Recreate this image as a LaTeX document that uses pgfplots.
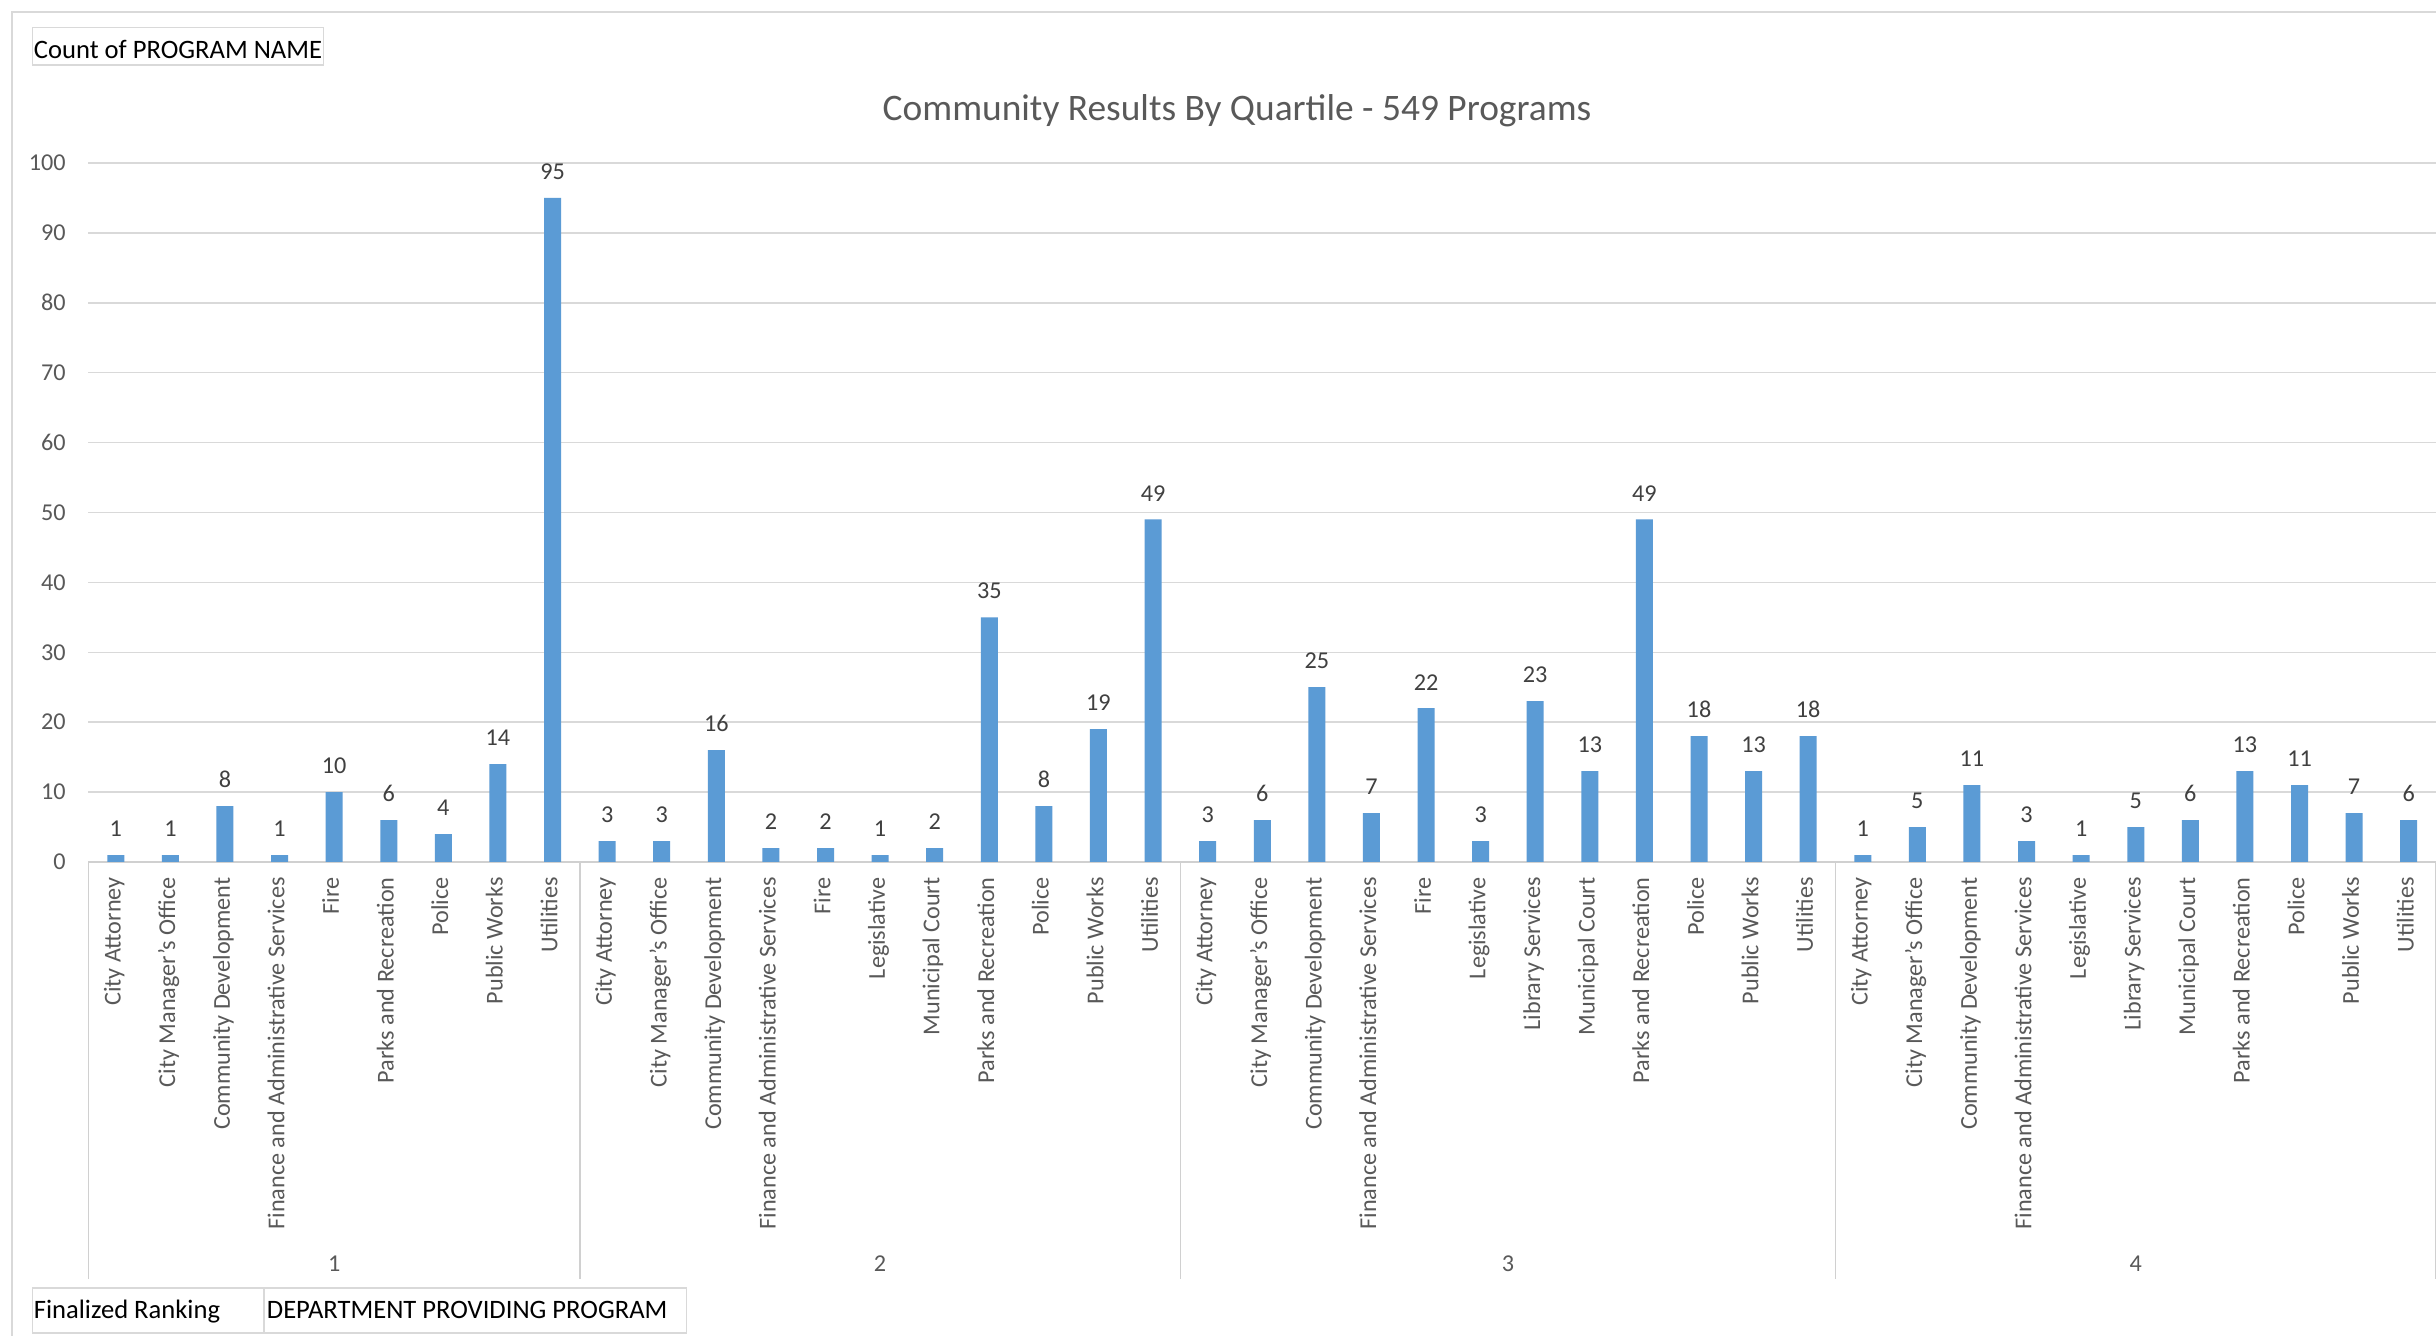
\documentclass[border=0pt]{standalone}
\usepackage{pgfplots}
\pgfplotsset{compat=1.18}
\usepackage{fontspec}
\setmainfont{Carlito}
\definecolor{barblue}{HTML}{5B9BD5}
\definecolor{gridgray}{HTML}{D9D9D9}
\definecolor{axisgray}{HTML}{D0D0D0}
\definecolor{txtgray}{HTML}{595959}
\definecolor{lblgray}{HTML}{404040}
\newcommand{\axfont}{\fontsize{12.1}{14}\selectfont}
\newcommand{\btnfont}{\fontsize{13.3}{16}\selectfont}
\begin{document}
\begin{tikzpicture}
\useasboundingbox (-44.25pt,-239pt) rectangle (1173.75pt,429pt);
\fill[white] (-44.25pt,-239pt) rectangle (1173.75pt,429pt);
\draw[gridgray, line width=1pt] (-38.25pt,-270pt) rectangle (1200pt,423.15pt);
\node[anchor=base, inner sep=0pt, font=\fontsize{18.7}{21}\selectfont, text=txtgray] at (574.25pt,368.5pt) {Community Results By Quartile - 549 Programs};
\begin{axis}[
  at={(0pt,-2pt)}, anchor=south west,
  width=1173.75pt, height=349.5pt, scale only axis,
  xmin=-0.5, xmax=42.5, ymin=0, ymax=100,
  ytick={0,10,...,100},
  ymajorgrids, major grid style={gridgray, line width=0.75pt},
  axis x line*=bottom, axis y line*=left,
  y axis line style={draw=none},
  x axis line style={axisgray, line width=0.75pt, -},
  xtick=data,
  xticklabels={City Attorney,City Manager's Office,Community Development,Finance and Administrative Services,Fire,Parks and Recreation,Police,Public Works,Utilities,
  City Attorney,City Manager's Office,Community Development,Finance and Administrative Services,Fire,Legislative,Municipal Court,Parks and Recreation,Police,Public Works,Utilities,
  City Attorney,City Manager's Office,Community Development,Finance and Administrative Services,Fire,Legislative,Library Services,Municipal Court,Parks and Recreation,Police,Public Works,Utilities,
  City Attorney,City Manager's Office,Community Development,Finance and Administrative Services,Legislative,Library Services,Municipal Court,Parks and Recreation,Police,Public Works,Utilities},
  major tick length=0pt,
  tick style={draw=none},
  xticklabel style={rotate=90, anchor=mid east, inner sep=0pt, font=\axfont, text=txtgray},
  xticklabel shift=7.5pt,
  yticklabel style={anchor=east, inner sep=0pt, font=\axfont, text=txtgray},
  yticklabel shift=11.2pt,
  /pgf/number format/assume math mode=true,
  ybar, bar width=8.5pt,
  nodes near coords,
  every node near coord/.append style={font=\axfont, text=lblgray, anchor=south, inner sep=0pt, yshift=8.9pt},
  clip=false,
]
\addplot[fill=barblue, draw=none] coordinates {
(0,1) (1,1) (2,8) (3,1) (4,10) (5,6) (6,4) (7,14) (8,95)
(9,3) (10,3) (11,16) (12,2) (13,2) (14,1) (15,2) (16,35) (17,8) (18,19) (19,49)
(20,3) (21,6) (22,25) (23,7) (24,22) (25,3) (26,23) (27,13) (28,49) (29,18) (30,13) (31,18)
(32,1) (33,5) (34,11) (35,3) (36,1) (37,5) (38,6) (39,13) (40,11) (41,7) (42,6)
};
\draw[axisgray, line width=0.75pt] (axis cs:-0.5,0) -- ([yshift=-208.5pt]axis cs:-0.5,0);
\draw[axisgray, line width=0.75pt] (axis cs:8.5,0) -- ([yshift=-208.5pt]axis cs:8.5,0);
\draw[axisgray, line width=0.75pt] (axis cs:19.5,0) -- ([yshift=-208.5pt]axis cs:19.5,0);
\draw[axisgray, line width=0.75pt] (axis cs:31.5,0) -- ([yshift=-208.5pt]axis cs:31.5,0);
\draw[axisgray, line width=0.75pt] (axis cs:42.5,0) -- ([yshift=-208.5pt]axis cs:42.5,0);
\node[anchor=base, inner sep=0pt, font=\axfont, text=txtgray] at ([yshift=-204.5pt]axis cs:4,0) {1};
\node[anchor=base, inner sep=0pt, font=\axfont, text=txtgray] at ([yshift=-204.5pt]axis cs:14,0) {2};
\node[anchor=base, inner sep=0pt, font=\axfont, text=txtgray] at ([yshift=-204.5pt]axis cs:25.5,0) {3};
\node[anchor=base, inner sep=0pt, font=\axfont, text=txtgray] at ([yshift=-204.5pt]axis cs:37,0) {4};
\end{axis}
\draw[gridgray, fill=white, line width=0.75pt] (-27.95pt,396.5pt) rectangle (117.6pt,415.35pt);
\node[anchor=base west, inner sep=0pt, font=\btnfont] at (-27.5pt,399.85pt) {Count of PROGRAM NAME};
\draw[gridgray, fill=white, line width=0.75pt] (-27.95pt,-237.5pt) rectangle (87.75pt,-215pt);
\draw[gridgray, fill=white, line width=0.75pt] (87.75pt,-237.5pt) rectangle (299.05pt,-215pt);
\node[anchor=base west, inner sep=0pt, font=\btnfont] at (-27.5pt,-230.5pt) {Finalized Ranking};
\node[anchor=base west, inner sep=0pt, font=\btnfont] at (89pt,-230.5pt) {DEPARTMENT PROVIDING PROGRAM};
\end{tikzpicture}
\end{document}
